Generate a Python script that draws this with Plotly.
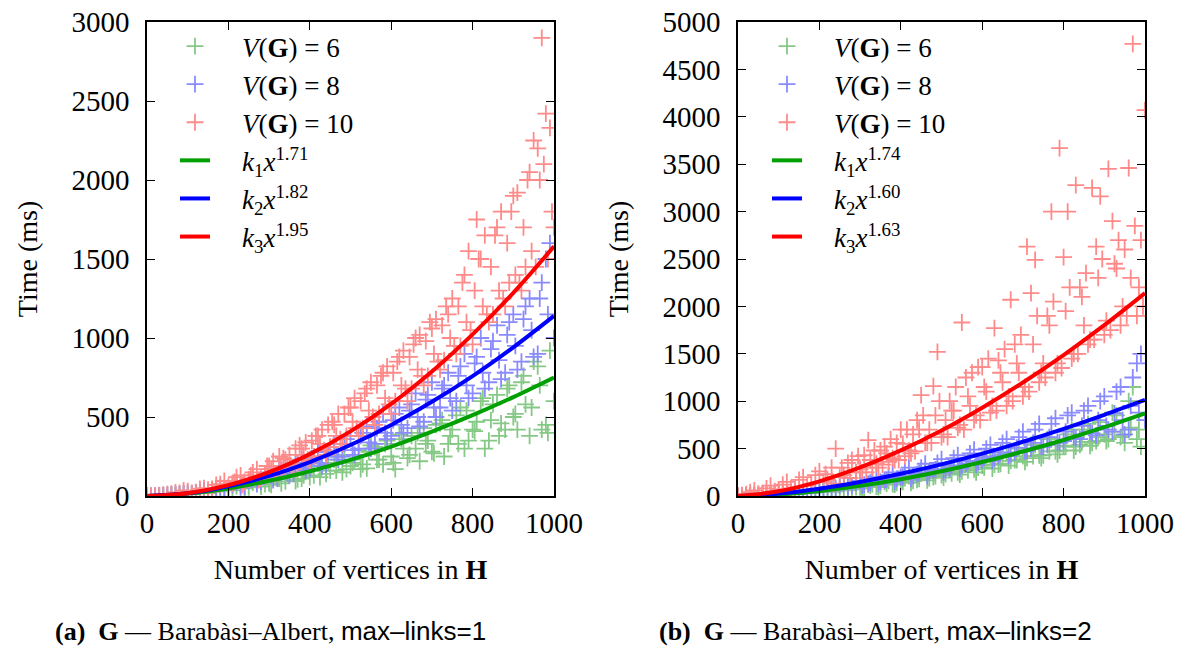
import plotly.graph_objects as go

# ---------------- sample grids (number of vertices in H) ----------------
XA = [0, 20, 40, 60, 80, 100, 120, 140, 160, 180, 200, 220, 240, 260, 280, 300, 320, 340, 360, 380,
      400, 420, 440, 460, 480, 500, 520, 540, 560, 580, 600, 620, 640, 660, 680, 700, 720, 740, 760, 780,
      800, 820, 840, 860, 880, 900, 920, 940, 960, 980, 1000]
XB = [10, 30, 50, 70, 90, 110, 130, 150, 170, 190, 210, 230, 250, 270, 290, 310, 330, 350, 370, 390,
      410, 430, 450, 470, 490, 510, 530, 550, 570, 590, 610, 630, 650, 670, 690, 710, 730, 750, 770, 790,
      810, 830, 850, 870, 890, 910, 930, 950, 970, 990]
XC = [305, 325, 345, 365, 385, 405, 425, 445, 465, 485, 505, 525, 545, 565, 585, 605, 625, 645, 665, 685,
      705, 725, 745, 765, 785, 805, 825, 845, 865, 885, 905, 925, 945, 965, 985]
XD = [215, 235, 255, 275, 295, 315, 335, 355, 375, 395, 415, 435, 455, 475, 495, 515, 535, 555, 575, 595,
      615, 635, 655, 675, 695, 715, 735, 755, 775, 795, 815, 835, 855, 875, 895, 915, 935, 955, 975, 995]

# ---------------- panel (a): max-links = 1 ----------------
a_v6_A = [0, 1, 3, 6, 9, 12, 22, 20, 38, 30, 40, 62, 48, 85, 60, 80, 125, 92, 150, 110,
          120, 205, 140, 230, 150, 190, 290, 175, 310, 200, 250, 390, 240, 300, 430, 280, 460, 330, 510, 300,
          420, 600, 350, 640, 420, 500, 720, 380, 820, 450, 600]
a_v6_B = [0, 2, 4, 7, 14, 10, 25, 18, 35, 50, 35, 70, 55, 100, 75, 110, 80, 140, 105, 175,
          130, 190, 160, 250, 170, 230, 200, 320, 230, 350, 170, 300, 380, 220, 350, 450, 250, 420, 560, 350,
          470, 300, 580, 460, 700, 420, 580, 850, 420, 920]
a_v6_C = [70, 110, 150, 95, 130, 190, 120, 210, 160, 260, 210, 170, 280, 230, 330, 210, 360, 260, 400, 330,
          270, 480, 380, 330, 540, 410, 620, 480, 380, 680, 520, 760, 560, 700, 400]

a_v8_A = [0, 1, 4, 8, 10, 20, 18, 35, 30, 55, 45, 85, 60, 110, 90, 150, 110, 190, 140, 230,
          170, 280, 200, 330, 250, 380, 300, 440, 330, 520, 380, 560, 430, 650, 470, 720, 560, 780, 600, 900,
          650, 1000, 720, 1080, 780, 1150, 850, 1250, 900, 1500, 1000]
a_v8_B = [0, 3, 5, 9, 17, 14, 30, 26, 48, 40, 70, 55, 95, 75, 130, 100, 165, 130, 210, 160,
          250, 190, 310, 230, 360, 260, 400, 300, 470, 360, 520, 400, 580, 440, 640, 500, 700, 540, 820, 620,
          880, 680, 980, 740, 1100, 800, 1200, 880, 1350, 1600]
a_v8_C = [130, 170, 145, 200, 180, 240, 210, 280, 250, 330, 290, 380, 340, 430, 400, 480, 450, 540, 500, 610,
          560, 680, 620, 760, 700, 840, 780, 930, 860, 1020, 950, 1120, 1050, 1250, 1150]

a_v10_A = [0, 2, 8, 15, 20, 30, 25, 50, 45, 75, 60, 120, 90, 150, 110, 190, 140, 230, 170, 300,
           220, 380, 260, 450, 330, 560, 380, 680, 450, 780, 520, 880, 600, 1000, 700, 1060, 800, 1150, 900, 1400,
           960, 1500, 1100, 1700, 1200, 1900, 1300, 2050, 2200, 2420, 1700]
a_v10_B = [0, 5, 12, 22, 35, 20, 45, 40, 70, 95, 80, 130, 105, 170, 130, 220, 160, 260, 200, 340,
           250, 420, 310, 520, 380, 620, 430, 720, 520, 820, 600, 920, 680, 1020, 760, 1120, 860, 1250, 950, 1550,
           1750, 1650, 1150, 1800, 1350, 1920, 1450, 2250, 2900, 2330]
a_v10_C = [170, 250, 200, 300, 260, 350, 330, 450, 380, 520, 470, 600, 540, 700, 620, 780, 700, 880, 800, 980,
           900, 1080, 1000, 1200, 1100, 1300, 1200, 1450, 1300, 1600, 1400, 1700, 1550, 2000, 1500]
a_v10_D = [90, 70, 130, 100, 190, 140, 240, 180, 320, 230, 380, 290, 470, 360, 560, 430, 650, 500, 760, 580,
           850, 680, 960, 760, 1100, 850, 1200, 950, 1350, 1050, 1500, 1150, 1650, 1250, 1800, 1350, 2000, 1450,
           2100, 1800]

# fitted curves, panel (a)
CURVE_X = [0, 100, 200, 300, 400, 500, 600, 700, 800, 900, 1000]
a_fit1 = [0, 15, 48, 96, 157, 229, 313, 408, 512, 626, 750]
a_fit2 = [0, 17, 61, 127, 215, 323, 450, 596, 759, 941, 1140]
a_fit3 = [0, 18, 69, 151, 265, 409, 583, 788, 1023, 1286, 1580]

# ---------------- panel (b): max-links = 2 ----------------
b_v6_A = [0, 1, 3, 6, 10, 12, 20, 18, 32, 30, 45, 60, 50, 80, 70, 90, 120, 100, 150, 125,
          150, 210, 170, 250, 200, 220, 300, 250, 340, 280, 320, 420, 330, 450, 380, 420, 540, 430, 600, 470,
          530, 700, 540, 760, 580, 650, 880, 620, 1000, 600, 800]
b_v6_B = [0, 2, 5, 8, 14, 10, 24, 22, 38, 35, 55, 45, 70, 60, 95, 80, 125, 110, 160, 140,
          190, 160, 240, 190, 280, 230, 320, 260, 370, 300, 400, 330, 440, 370, 500, 400, 540, 430, 600, 480,
          650, 520, 700, 560, 780, 600, 850, 560, 1150, 520]
b_v6_C = [80, 110, 95, 130, 120, 150, 140, 180, 165, 210, 195, 240, 225, 270, 250, 300, 290, 340, 320, 380,
          360, 420, 400, 470, 440, 520, 480, 570, 530, 620, 580, 680, 640, 720, 700]

b_v8_A = [0, 3, 8, 14, 20, 25, 30, 45, 40, 65, 60, 95, 80, 125, 110, 160, 130, 200, 170, 250,
          200, 300, 230, 340, 270, 390, 290, 430, 340, 490, 380, 540, 420, 600, 460, 680, 500, 760, 540, 820,
          580, 880, 600, 950, 640, 1050, 680, 1150, 700, 1400, 800]
b_v8_B = [1, 5, 11, 12, 25, 22, 40, 35, 55, 50, 85, 70, 110, 95, 140, 120, 180, 150, 220, 180,
          260, 210, 300, 250, 350, 280, 400, 320, 450, 360, 500, 400, 560, 440, 620, 480, 700, 520, 760, 560,
          850, 610, 900, 660, 1000, 700, 1100, 650, 1250, 1500]
b_v8_C = [110, 140, 125, 170, 150, 200, 180, 240, 210, 280, 250, 320, 290, 370, 330, 410, 370, 460, 420, 510,
          470, 560, 520, 620, 570, 680, 620, 740, 680, 800, 740, 870, 800, 950, 880]

b_v10_A = [0, 20, 60, 30, 110, 70, 150, 90, 200, 130, 260, 170, 500, 220, 380, 280, 590, 340, 520, 400,
           700, 480, 800, 560, 1160, 620, 1000, 720, 1250, 800, 1360, 880, 1430, 950, 1600, 1050, 2140, 1200, 1900, 1300,
           2520, 1450, 2200, 1600, 2630, 1700, 2900, 1800, 3460, 1900, 4070]
b_v10_B = [10, 40, 25, 80, 50, 120, 80, 170, 110, 220, 150, 300, 200, 350, 250, 430, 300, 480, 360, 560,
           420, 650, 1065, 700, 1520, 800, 900, 1830, 950, 1360, 1100, 1770, 1200, 2070, 1300, 2630, 2490, 1400, 3000, 3670,
           3000, 3280, 1800, 3250, 3160, 3450, 2400, 2600, 4770, 2700]
b_v10_C = [250, 380, 300, 450, 380, 550, 450, 700, 560, 850, 650, 900, 750, 1050, 850, 1150, 950, 1300, 1050, 1400,
           1150, 1600, 1300, 1800, 1400, 1950, 1500, 2100, 1650, 2300, 1850, 2450, 2000, 2300, 2200]
b_v10_D = [230, 130, 300, 190, 420, 250, 480, 330, 600, 380, 700, 470, 850, 560, 1000, 620, 1150, 700, 1300, 800,
           1450, 900, 1550, 1000, 1700, 1100, 1900, 1250, 2050, 1350, 2200, 1500, 2350, 1650, 2500, 1750, 2700, 1900,
           2850, 2000]

# fitted curves, panel (b)
b_fit1 = [0, 16, 53, 107, 177, 261, 358, 469, 591, 726, 872]
b_fit2 = [0, 25, 77, 148, 234, 334, 447, 572, 709, 856, 1013]
b_fit3 = [0, 50, 155, 301, 481, 691, 931, 1197, 1487, 1802, 2140]

SP = "&nbsp;"
PAD = SP * 4
SERIES_NAMES = [PAD + "<i>V</i>(<b>G</b>)" + SP + "=" + SP + "6",
                PAD + "<i>V</i>(<b>G</b>)" + SP + "=" + SP + "8",
                PAD + "<i>V</i>(<b>G</b>)" + SP + "=" + SP + "10"]
A_FIT_NAMES = [PAD + "<i>k</i><sub>1</sub><i>x</i><sup>1.71</sup>", PAD + "<i>k</i><sub>2</sub><i>x</i><sup>1.82</sup>",
               PAD + "<i>k</i><sub>3</sub><i>x</i><sup>1.95</sup>"]
B_FIT_NAMES = [PAD + "<i>k</i><sub>1</sub><i>x</i><sup>1.74</sup>", PAD + "<i>k</i><sub>2</sub><i>x</i><sup>1.60</sup>",
               PAD + "<i>k</i><sub>3</sub><i>x</i><sup>1.63</sup>"]

POINT_COLORS = ["#86c986", "#8a8aff", "#ff8a8a"]
LINE_COLORS = ["#00a000", "#0000ff", "#ff0000"]
SERIF = "Liberation Serif"

fig = go.Figure()

panels = [
    ("x", "y", "legend",
     [(XA + XB + XC, a_v6_A + a_v6_B + a_v6_C),
      (XA + XB + XC, a_v8_A + a_v8_B + a_v8_C),
      (XA + XB + XC + XD, a_v10_A + a_v10_B + a_v10_C + a_v10_D)],
     [a_fit1, a_fit2, a_fit3], A_FIT_NAMES),
    ("x2", "y2", "legend2",
     [(XA + XB + XC, b_v6_A + b_v6_B + b_v6_C),
      (XA + XB + XC, b_v8_A + b_v8_B + b_v8_C),
      (XA + XB + XC + XD, b_v10_A + b_v10_B + b_v10_C + b_v10_D)],
     [b_fit1, b_fit2, b_fit3], B_FIT_NAMES),
]

for xa, ya, leg, pts, fits, fitnames in panels:
    for i, (px, py) in enumerate(pts):
        fig.add_trace(go.Scatter(
            x=px, y=py, mode="markers", name=SERIES_NAMES[i],
            xaxis=xa, yaxis=ya, legend=leg, cliponaxis=True,
            marker=dict(symbol="cross-thin", size=12, color=POINT_COLORS[i],
                        line=dict(color=POINT_COLORS[i], width=1.8)),
        ))
    for i, f in enumerate(fits):
        fig.add_trace(go.Scatter(
            x=CURVE_X, y=f, mode="lines", name=fitnames[i], xaxis=xa, yaxis=ya, legend=leg,
            line=dict(color=LINE_COLORS[i], width=4, shape="spline"),
        ))

axis_common = dict(
    showgrid=False, zeroline=False, showline=True, linecolor="black", linewidth=1.5,
    mirror="ticks", ticks="inside", ticklen=8, tickwidth=1.3, tickcolor="black",
    tickfont=dict(family=SERIF, size=29, color="black"), automargin=False,
    ticklabeloverflow="allow",
)

# page body margin is removed (post_script below), so figure pixels == page pixels
W, H = 1188, 650
ML, MR, MT, MB = 147, 43, 22, 154
PW = W - ML - MR
PH = H - MT - MB
fig.update_layout(
    width=W, height=H, paper_bgcolor="white", plot_bgcolor="white",
    margin=dict(l=ML, r=MR, t=MT, b=MB, autoexpand=False), showlegend=True,
    font=dict(family=SERIF, color="black"),
    xaxis=dict(domain=[0, (554 - ML) / PW], range=[0, 1000], dtick=200, anchor="y",
               title=dict(text="Number of vertices in <b>H</b>", font=dict(family=SERIF, size=28), standoff=22),
               **axis_common),
    yaxis=dict(domain=[0, 1], range=[0, 3000], dtick=500, anchor="x", ticklabelstandoff=10,
               title=dict(text="Time (ms)", font=dict(family=SERIF, size=28), standoff=26),
               **axis_common),
    xaxis2=dict(domain=[(738 - ML) / PW, 1], range=[0, 1000], dtick=200, anchor="y2",
                title=dict(text="Number of vertices in <b>H</b>", font=dict(family=SERIF, size=28), standoff=22),
                **axis_common),
    yaxis2=dict(domain=[0, 1], range=[0, 5000], dtick=500, anchor="x2", ticklabelstandoff=10,
                title=dict(text="Time (ms)", font=dict(family=SERIF, size=28), standoff=26),
                **axis_common),
    legend=dict(x=(175 - ML) / PW, y=1.0, xanchor="left", yanchor="top", bgcolor="rgba(0,0,0,0)",
                font=dict(family=SERIF, size=27, color="black"), tracegroupgap=0),
    legend2=dict(x=(767 - ML) / PW, y=1.0, xanchor="left", yanchor="top", bgcolor="rgba(0,0,0,0)",
                 font=dict(family=SERIF, size=27, color="black"), tracegroupgap=0),
)

SANS = "Liberation Sans"
captions = [
    (270, "<b>(a)</b>  <b>G</b> — Barabàsi–Albert, <span style='font-family:%s'>max–links=1</span>" % SANS),
    (875, "<b>(b)</b>  <b>G</b> — Barabàsi–Albert, <span style='font-family:%s'>max–links=2</span>" % SANS),
]
for cx, txt in captions:
    fig.add_annotation(x=(cx - ML) / PW, y=(H - MB - 631) / PH, xref="paper", yref="paper", text=txt,
                       showarrow=False, font=dict(family=SERIF, size=26, color="black"),
                       xanchor="center", yanchor="middle")

fig.write_html("out.html", config={"displayModeBar": False},
               post_script="document.body.style.margin='0px';document.body.style.overflow='hidden';")
